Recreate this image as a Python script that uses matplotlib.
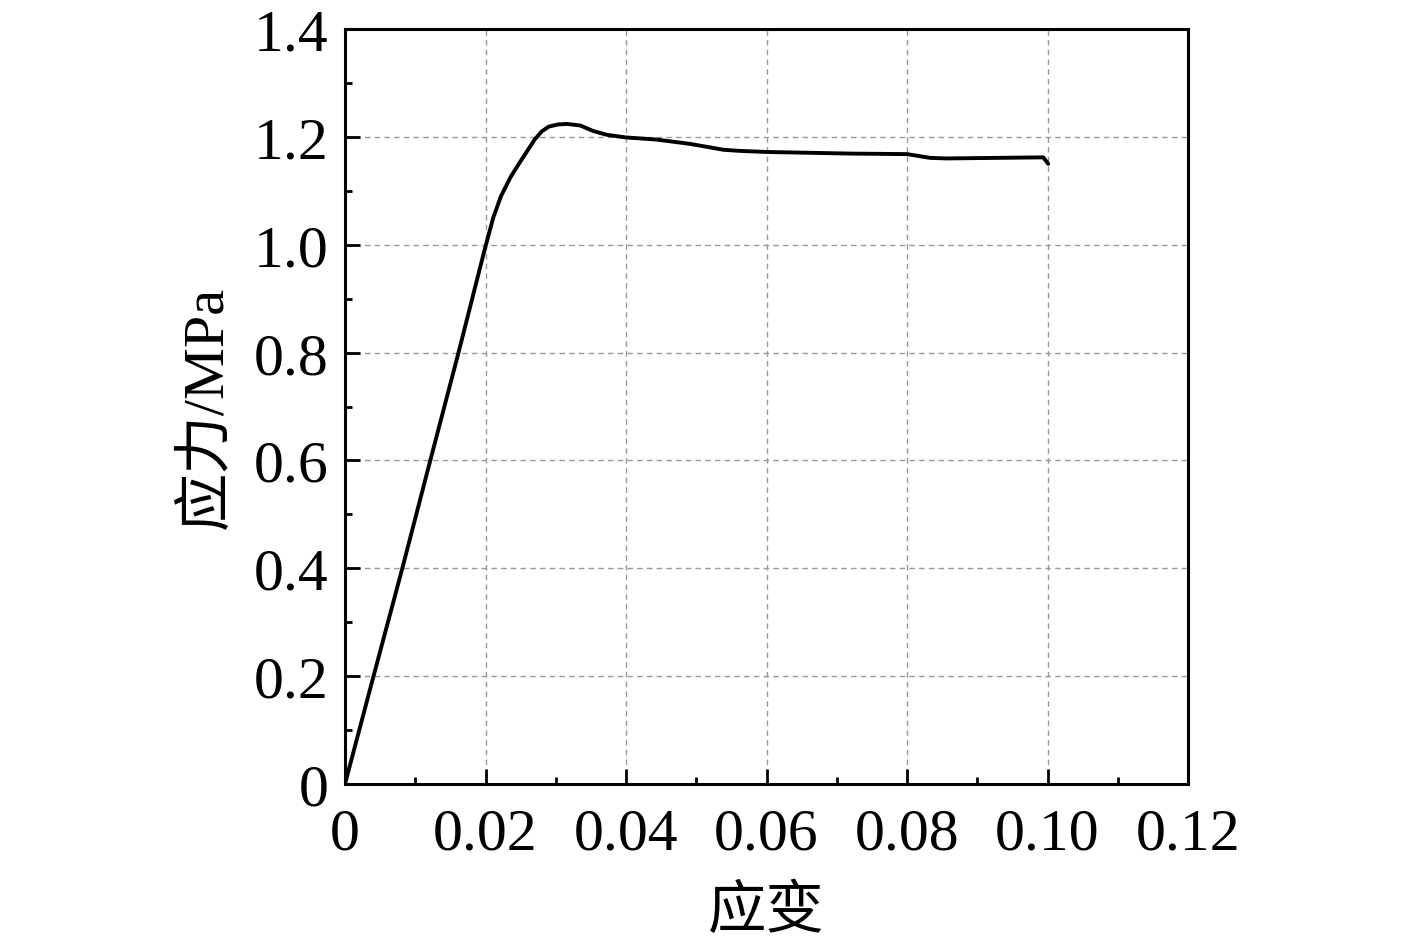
import numpy as np
import matplotlib
matplotlib.use("Agg")
import matplotlib.pyplot as plt
from matplotlib.ticker import MultipleLocator

plt.rcParams['font.family'] = ['Liberation Serif', 'Noto Sans CJK SC']

# stress-strain curve
strain = [0.0, 0.0040, 0.0081, 0.0121, 0.0161, 0.0199, 0.0211, 0.0222,
          0.0236, 0.0249, 0.0260, 0.0270, 0.0280, 0.0290, 0.0303, 0.0316,
          0.0335, 0.0353, 0.0372, 0.0399, 0.0443, 0.0491, 0.0539, 0.0562,
          0.060, 0.0719, 0.080, 0.0833, 0.0857, 0.0994, 0.1001]
stress = [0.0, 0.197, 0.397, 0.598, 0.797, 0.992, 1.050, 1.090,
          1.126, 1.153, 1.175, 1.195, 1.210, 1.219, 1.223, 1.224,
          1.221, 1.211, 1.204, 1.199, 1.195, 1.187, 1.176, 1.174,
          1.172, 1.169, 1.168, 1.161, 1.160, 1.162, 1.150]

xticks = [0, 0.02, 0.04, 0.06, 0.08, 0.10, 0.12]
xlabels = ['0', '0.02', '0.04', '0.06', '0.08', '0.10', '0.12']
yticks = [0, 0.2, 0.4, 0.6, 0.8, 1.0, 1.2, 1.4]
ylabels = ['0', '0.2', '0.4', '0.6', '0.8', '1.0', '1.2', '1.4']

fig = plt.figure(figsize=(14.17, 9.45), dpi=100)
ax = fig.add_axes([345/1417, 1 - 785/945, (1188-345)/1417, (785-30)/945])

ax.plot(strain, stress, color='black', lw=2.8, solid_joinstyle='round',
        solid_capstyle='round')

ax.set_xlim(0, 0.12)
ax.set_ylim(0, 1.4)
ax.set_xticks(xticks)
ax.set_xticklabels(xlabels)
ax.set_yticks(yticks)
ax.set_yticklabels(ylabels)
ax.xaxis.set_minor_locator(MultipleLocator(0.01))
ax.yaxis.set_minor_locator(MultipleLocator(0.1))
ax.tick_params(which='both', direction='in', top=False, right=False,
               labelsize=43, width=2)
ax.tick_params(axis='x', pad=17)
ax.tick_params(axis='y', pad=12)
ax.tick_params(which='major', length=11)
ax.tick_params(which='minor', length=5)
for s in ax.spines.values():
    s.set_linewidth(2.2)

ax.grid(True, which='major', color='#999999', ls=(0, (4, 3)), lw=1)

ax.set_xlabel('应变', fontsize=42, labelpad=16)
ax.set_ylabel('应力/MPa', fontsize=42, labelpad=14)

fig.savefig('out.png', dpi=100)
